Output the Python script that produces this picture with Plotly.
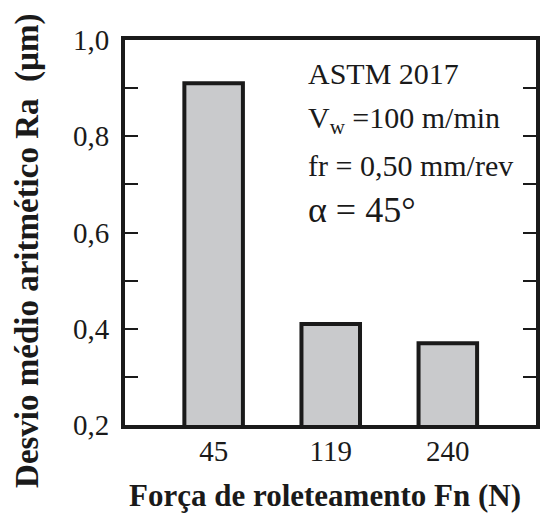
import plotly.graph_objects as go

# Rolling force (N) and measured mean roughness Ra (µm)
forces = ["45", "119", "240"]
ra_values = [0.91, 0.41, 0.37]

y_ticks = [0.2, 0.4, 0.6, 0.8, 1.0]
y_tick_labels = ["0,2", "0,4", "0,6", "0,8", "1,0"]

conditions = [
    "ASTM 2017",
    "V<sub>w</sub> =100 m/min",
    "fr = 0,50 mm/rev",
]
angle_label = "α = 45°"

serif = "Liberation Serif"
ink = "#1a1a1a"

# plot area in pixels: x 125..540, y 40..425
W, H = 542, 514
ML, MR, MT, MB = 125, 2, 40, 89
PW, PH = W - ML - MR, H - MT - MB


def px_x(x):
    return (x - ML) / PW


def px_y(y):
    return (H - MB - y) / PH


fig = go.Figure()
fig.add_trace(go.Bar(
    x=[0, 1, 2],
    y=ra_values,
    base=0,
    width=0.5,
    marker=dict(color="#c9cacc", line=dict(color=ink, width=4)),
    hoverinfo="skip",
))

fig.update_layout(
    width=W,
    height=H,
    margin=dict(l=ML, r=MR, t=MT, b=MB, pad=0),
    paper_bgcolor="white",
    plot_bgcolor="white",
    showlegend=False,
    font=dict(family=serif, color=ink),
    xaxis=dict(
        range=[-0.757, 2.753],
        tickmode="array",
        tickvals=[0, 1, 2],
        ticktext=forces,
        ticks="",
        ticklabelstandoff=-3,
        tickfont=dict(family=serif, size=29, color=ink),
        showline=True,
        linecolor=ink,
        linewidth=4,
        mirror=True,
        showgrid=False,
        zeroline=False,
    ),
    yaxis=dict(
        range=[0.2, 1.0],
        tickmode="array",
        tickvals=y_ticks,
        ticktext=y_tick_labels,
        ticks="inside",
        ticklen=13,
        tickwidth=2,
        tickcolor=ink,
        ticklabelstandoff=6,
        tickfont=dict(family=serif, size=29, color=ink),
        minor=dict(dtick=0.1, tick0=0.2, ticks="inside", ticklen=13,
                   tickwidth=2, tickcolor=ink, showgrid=False),
        showline=True,
        linecolor=ink,
        linewidth=4,
        mirror="ticks",
        showgrid=False,
        zeroline=False,
    ),
)

# Test conditions block in the upper right
cond_centers = [73, 120, 165]
for text, yy in zip(conditions, cond_centers):
    fig.add_annotation(
        x=px_x(308), y=px_y(yy), xref="paper", yref="paper",
        text=text, showarrow=False, xanchor="left", yanchor="middle",
        font=dict(family=serif, size=30, color=ink),
    )
fig.add_annotation(
    x=px_x(308), y=px_y(210), xref="paper", yref="paper",
    text=angle_label, showarrow=False, xanchor="left", yanchor="middle",
    font=dict(family=serif, size=36, color=ink),
)

# Axis titles
fig.add_annotation(
    x=px_x(327), y=px_y(495), xref="paper", yref="paper",
    text="<b>Força de roleteamento Fn (N)</b>", showarrow=False,
    xanchor="center", yanchor="middle",
    font=dict(family=serif, size=31, color=ink),
)
fig.add_annotation(
    x=px_x(26), y=px_y(251), xref="paper", yref="paper",
    text="<b>Desvio médio aritmético Ra  (µm)</b>", showarrow=False,
    textangle=-90, xanchor="center", yanchor="middle",
    font=dict(family=serif, size=33, color=ink),
)

fig.write_html("out.html")
